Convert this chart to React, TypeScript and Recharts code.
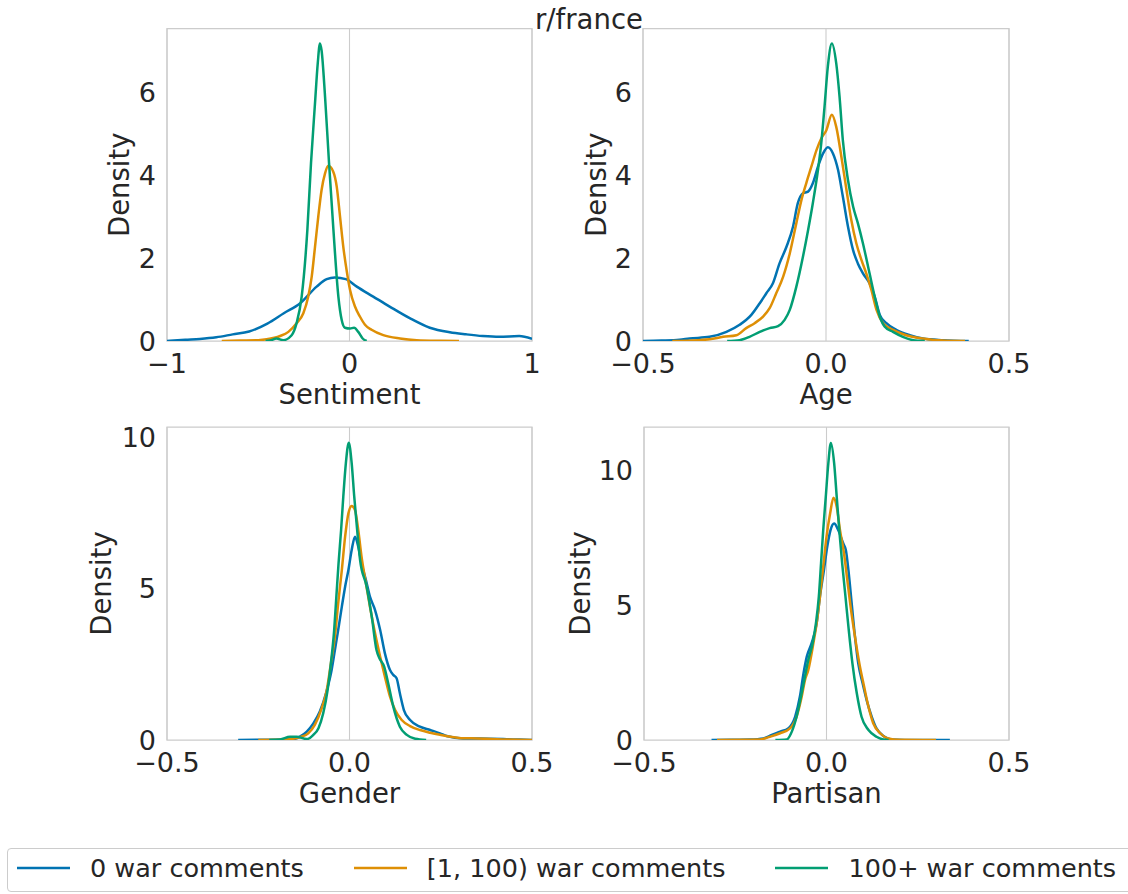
import { LineChart, Line, XAxis, YAxis, CartesianGrid, ReferenceArea, Label } from "recharts";

type Pt = [number, number];

const seriesNames = ["0 war comments", "[1, 100) war comments", "100+ war comments"];
const seriesColors = ["#0173b2", "#de8f05", "#029e73"];

// Sentiment KDEs
const sentimentNone: Pt[] = [
  [-1, 0], [-0.9, 0.03], [-0.82, 0.05], [-0.73, 0.09], [-0.64, 0.16], [-0.55, 0.23], [-0.45, 0.42],
  [-0.36, 0.67], [-0.27, 0.91], [-0.18, 1.31], [-0.125, 1.49], [-0.08, 1.53], [-0.02, 1.49],
  [0.04, 1.31], [0.13, 1.07], [0.22, 0.83], [0.33, 0.55], [0.44, 0.32], [0.55, 0.21], [0.64, 0.16],
  [0.73, 0.12], [0.82, 0.1], [0.93, 0.12], [1, 0.05],
];
const sentimentMid: Pt[] = [
  [-0.7, 0], [-0.6, 0.01], [-0.5, 0.02], [-0.454, 0.04], [-0.38, 0.12], [-0.335, 0.22], [-0.29, 0.43],
  [-0.253, 0.67], [-0.226, 1.07], [-0.207, 1.55], [-0.189, 2.27], [-0.171, 3.0], [-0.153, 3.64],
  [-0.134, 4.04], [-0.116, 4.22], [-0.089, 4.08], [-0.07, 3.72], [-0.052, 3.0], [-0.034, 2.27],
  [-0.016, 1.71], [0.003, 1.23], [0.03, 0.83], [0.057, 0.59], [0.085, 0.39], [0.121, 0.27],
  [0.185, 0.14], [0.277, 0.06], [0.368, 0.02], [0.5, 0.005], [0.6, 0],
];
const sentimentHigh: Pt[] = [
  [-0.46, 0], [-0.436, 0.01], [-0.4, 0.06], [-0.363, 0.02], [-0.317, 0.14], [-0.29, 0.43],
  [-0.262, 1.07], [-0.231, 2.67], [-0.211, 4.28], [-0.189, 5.73], [-0.174, 6.69], [-0.162, 7.17],
  [-0.153, 7.0], [-0.134, 5.89], [-0.112, 4.28], [-0.088, 2.67], [-0.061, 1.07], [-0.043, 0.51],
  [-0.025, 0.32], [0.003, 0.3], [0.025, 0.32], [0.048, 0.22], [0.072, 0.06], [0.094, 0],
];

// Age KDEs
const ageNone: Pt[] = [
  [-0.5, 0], [-0.45, 0.01], [-0.4, 0.03], [-0.373, 0.06], [-0.318, 0.1], [-0.272, 0.22], [-0.236, 0.39],
  [-0.204, 0.63], [-0.181, 0.91], [-0.163, 1.15], [-0.145, 1.39], [-0.127, 1.87], [-0.108, 2.27],
  [-0.09, 2.76], [-0.077, 3.32], [-0.063, 3.56], [-0.049, 3.6], [-0.036, 3.8], [-0.022, 4.2],
  [-0.008, 4.52], [0.005, 4.67], [0.019, 4.52], [0.033, 4.12], [0.046, 3.48], [0.06, 2.76],
  [0.074, 2.19], [0.087, 1.87], [0.101, 1.63], [0.119, 1.39], [0.133, 1.07], [0.147, 0.63],
  [0.165, 0.43], [0.192, 0.27], [0.229, 0.14], [0.265, 0.06], [0.32, 0.02], [0.39, 0],
];
const ageMid: Pt[] = [
  [-0.42, 0], [-0.35, 0.02], [-0.318, 0.04], [-0.281, 0.1], [-0.245, 0.14], [-0.218, 0.31],
  [-0.195, 0.43], [-0.172, 0.59], [-0.154, 0.79], [-0.136, 1.15], [-0.117, 1.55], [-0.099, 2.11],
  [-0.081, 2.84], [-0.067, 3.4], [-0.054, 3.8], [-0.04, 4.2], [-0.026, 4.6], [-0.013, 4.88],
  [0.001, 5.08], [0.016, 5.45], [0.028, 5.16], [0.042, 4.44], [0.056, 3.64], [0.069, 2.92],
  [0.083, 2.35], [0.097, 1.95], [0.11, 1.63], [0.124, 1.23], [0.138, 0.75], [0.156, 0.43],
  [0.183, 0.27], [0.219, 0.14], [0.265, 0.06], [0.32, 0.01], [0.38, 0],
];
const ageHigh: Pt[] = [
  [-0.27, 0], [-0.236, 0.02], [-0.209, 0.1], [-0.181, 0.22], [-0.154, 0.31], [-0.131, 0.36],
  [-0.113, 0.51], [-0.099, 0.75], [-0.081, 1.31], [-0.063, 2.03], [-0.049, 2.67], [-0.036, 3.32],
  [-0.022, 4.12], [-0.013, 4.76], [-0.004, 5.65], [0.005, 6.61], [0.016, 7.17], [0.028, 6.69],
  [0.037, 5.89], [0.046, 4.84], [0.06, 3.88], [0.074, 3.24], [0.087, 2.84], [0.101, 2.35],
  [0.119, 1.63], [0.133, 1.07], [0.147, 0.59], [0.16, 0.35], [0.183, 0.22], [0.21, 0.1],
  [0.238, 0.02], [0.27, 0],
];

// Gender KDEs
const genderNone: Pt[] = [
  [-0.305, 0], [-0.2, 0.01], [-0.154, 0.03], [-0.136, 0.11], [-0.117, 0.28], [-0.099, 0.55],
  [-0.081, 0.95], [-0.063, 1.6], [-0.049, 2.31], [-0.04, 2.97], [-0.031, 3.63], [-0.021, 4.4],
  [-0.012, 5.06], [-0.003, 5.61], [0.006, 6.27], [0.015, 6.71], [0.024, 6.38], [0.033, 5.83],
  [0.045, 5.28], [0.056, 4.73], [0.07, 4.29], [0.084, 3.63], [0.097, 2.86], [0.111, 2.31],
  [0.12, 2.15], [0.129, 2.04], [0.138, 1.54], [0.149, 0.99], [0.166, 0.66], [0.193, 0.44],
  [0.221, 0.33], [0.248, 0.22], [0.266, 0.13], [0.311, 0.05], [0.357, 0.05], [0.448, 0.02], [0.5, 0],
];
const genderMid: Pt[] = [
  [-0.25, 0], [-0.2, 0.01], [-0.172, 0.02], [-0.136, 0.09], [-0.113, 0.22], [-0.095, 0.5],
  [-0.076, 1.05], [-0.063, 1.6], [-0.051, 2.53], [-0.04, 3.41], [-0.031, 4.51], [-0.021, 5.61],
  [-0.012, 6.71], [-0.003, 7.48], [0.006, 7.72], [0.015, 7.59], [0.024, 6.93], [0.033, 6.05],
  [0.045, 5.17], [0.056, 4.4], [0.07, 3.52], [0.084, 2.75], [0.097, 2.09], [0.111, 1.43],
  [0.125, 0.99], [0.143, 0.66], [0.166, 0.46], [0.193, 0.33], [0.221, 0.24], [0.248, 0.17],
  [0.3, 0.07], [0.35, 0.05], [0.42, 0.02], [0.5, 0],
];
const genderHigh: Pt[] = [
  [-0.22, 0], [-0.19, 0.02], [-0.163, 0.11], [-0.145, 0.11], [-0.117, 0.03], [-0.099, 0.17],
  [-0.085, 0.39], [-0.072, 0.88], [-0.06, 1.65], [-0.051, 2.53], [-0.042, 3.63], [-0.036, 4.73],
  [-0.03, 5.83], [-0.023, 6.93], [-0.017, 8.03], [-0.01, 9.13], [-0.002, 9.81], [0.006, 9.13],
  [0.013, 8.03], [0.021, 6.93], [0.029, 5.94], [0.047, 5.06], [0.061, 4.07], [0.074, 2.97],
  [0.082, 2.7], [0.095, 2.42], [0.106, 1.87], [0.12, 1.1], [0.138, 0.44], [0.157, 0.17],
  [0.18, 0.04], [0.21, 0],
];

// Partisan KDEs
const partisanNone: Pt[] = [
  [-0.315, 0], [-0.25, 0.01], [-0.21, 0.02], [-0.173, 0.06], [-0.15, 0.19], [-0.127, 0.31],
  [-0.105, 0.43], [-0.086, 0.86], [-0.073, 1.6], [-0.063, 2.47], [-0.054, 3.09], [-0.041, 3.58],
  [-0.027, 4.32], [-0.018, 5.31], [-0.007, 6.3], [0.002, 7.16], [0.011, 7.78], [0.021, 8.02],
  [0.032, 7.78], [0.046, 7.28], [0.053, 7.04], [0.06, 6.3], [0.069, 5.06], [0.078, 3.83],
  [0.087, 2.84], [0.099, 2.1], [0.11, 1.48], [0.124, 0.86], [0.137, 0.43], [0.156, 0.15],
  [0.178, 0.02], [0.25, 0], [0.338, 0],
];
const partisanMid: Pt[] = [
  [-0.3, 0], [-0.22, 0.01], [-0.182, 0.02], [-0.155, 0.12], [-0.127, 0.25], [-0.1, 0.43],
  [-0.082, 0.86], [-0.068, 1.6], [-0.059, 2.22], [-0.05, 2.59], [-0.036, 3.58], [-0.027, 4.32],
  [-0.018, 5.31], [-0.009, 6.42], [0, 7.53], [0.01, 8.4], [0.019, 8.98], [0.028, 8.64],
  [0.037, 7.78], [0.048, 6.91], [0.057, 5.93], [0.066, 4.94], [0.078, 3.83], [0.09, 2.84],
  [0.103, 1.98], [0.115, 1.23], [0.128, 0.62], [0.147, 0.25], [0.169, 0.06], [0.2, 0.01], [0.3, 0],
];
const partisanHigh: Pt[] = [
  [-0.14, 0], [-0.109, 0.02], [-0.095, 0.31], [-0.082, 0.86], [-0.07, 1.6], [-0.059, 2.35],
  [-0.05, 2.96], [-0.038, 3.58], [-0.029, 4.32], [-0.021, 5.31], [-0.015, 6.54], [-0.009, 7.78],
  [-0.002, 9.01], [0.005, 10.25], [0.012, 11.01], [0.021, 10.25], [0.028, 9.01], [0.035, 7.78],
  [0.043, 6.54], [0.052, 5.31], [0.061, 4.07], [0.071, 2.84], [0.083, 1.73], [0.096, 0.86],
  [0.115, 0.37], [0.137, 0.12], [0.156, 0.02], [0.17, 0],
];

const wideTicks = [-1, 0, 1];
const wideTickLabels = ["\u22121", "0", "1"];
const narrowTicks = [-0.5, 0, 0.5];
const narrowTickLabels = ["\u22120.5", "0.0", "0.5"];
const smallYTicks = [0, 2, 4, 6];
const bigYTicks = [0, 5, 10];

const TEXT = "#262626";
const EDGE = "#cccccc";
const FONT = "'DejaVu Sans', sans-serif";

interface Panel {
  label: string;
  curves: Pt[][];
  xTicks: number[];
  xLabels: string[];
  yTicks: number[];
  yMax: number;
  box: { left: number; top: number; width: number; height: number };
  margin: { top: number; right: number; bottom: number; left: number };
  yWidth: number;
}

const panels: Panel[] = [
  {
    label: "Sentiment", curves: [sentimentNone, sentimentMid, sentimentHigh],
    xTicks: wideTicks, xLabels: wideTickLabels, yTicks: smallYTicks, yMax: 7.53,
    box: { left: 0, top: 0, width: 560, height: 420 },
    margin: { top: 28.5, right: 28, bottom: 9, left: 71 }, yWidth: 96,
  },
  {
    label: "Age", curves: [ageNone, ageMid, ageHigh],
    xTicks: narrowTicks, xLabels: narrowTickLabels, yTicks: smallYTicks, yMax: 7.53,
    box: { left: 540, top: 0, width: 588, height: 420 },
    margin: { top: 28.5, right: 119, bottom: 9, left: 9 }, yWidth: 94,
  },
  {
    label: "Gender", curves: [genderNone, genderMid, genderHigh],
    xTicks: narrowTicks, xLabels: narrowTickLabels, yTicks: bigYTicks, yMax: 10.33,
    box: { left: 0, top: 400, width: 560, height: 420 },
    margin: { top: 27, right: 28, bottom: 10, left: 35 }, yWidth: 132,
  },
  {
    label: "Partisan", curves: [partisanNone, partisanMid, partisanHigh],
    xTicks: narrowTicks, xLabels: narrowTickLabels, yTicks: bigYTicks, yMax: 11.6,
    box: { left: 500, top: 400, width: 628, height: 420 },
    margin: { top: 27, right: 119, bottom: 10, left: 16 }, yWidth: 128,
  },
];

function DensityPanel({ p }: { p: Panel }) {
  const xMin = p.xTicks[0];
  const xMax = p.xTicks[p.xTicks.length - 1];
  return (
    <div style={{ position: "absolute", left: p.box.left, top: p.box.top }}>
      <LineChart width={p.box.width} height={p.box.height} margin={p.margin}>
        <CartesianGrid horizontal={false} stroke={EDGE} strokeWidth={1.1} />
        <XAxis
          type="number"
          dataKey="x"
          domain={[xMin, xMax]}
          ticks={p.xTicks}
          tickFormatter={(v: number) => p.xLabels[p.xTicks.indexOf(v)] ?? String(v)}
          axisLine={false}
          tickLine={false}
          tickSize={0}
          tickMargin={13}
          height={70}
          allowDataOverflow
          tick={{ fontSize: 27, fill: TEXT }}
        >
          <Label value={p.label} position="insideBottom" offset={7} fontSize={27.5} fill={TEXT} />
        </XAxis>
        <YAxis
          type="number"
          domain={[0, p.yMax]}
          ticks={p.yTicks}
          axisLine={false}
          tickLine={false}
          tickSize={0}
          tickMargin={11}
          width={p.yWidth}
          allowDataOverflow
          tick={{ fontSize: 27, fill: TEXT }}
        >
          <Label value="Density" angle={-90} position="center" fontSize={27.5} fill={TEXT} />
        </YAxis>
        <ReferenceArea x1={xMin} x2={xMax} y1={0} y2={p.yMax} fill="none" stroke={EDGE} strokeWidth={1.25} ifOverflow="visible" />
        {p.curves.map((c, i) => (
          <Line
            key={seriesNames[i]}
            name={seriesNames[i]}
            data={c.map(([x, y]) => ({ x, y }))}
            dataKey="y"
            type="monotone"
            stroke={seriesColors[i]}
            strokeWidth={2.5}
            dot={false}
            activeDot={false}
            isAnimationActive={false}
          />
        ))}
      </LineChart>
    </div>
  );
}

export default function App() {
  return (
    <div
      style={{
        position: "absolute", left: 0, top: 0, width: 1128, height: 894,
        background: "#fff", overflow: "hidden", fontFamily: FONT, color: TEXT,
      }}
    >
      {panels.map((p) => (
        <DensityPanel key={p.label} p={p} />
      ))}
      <svg style={{ position: "absolute", left: 0, top: 0 }} width={1128} height={40}>
        <text x={589} y={29.3} textAnchor="middle" fontSize={27.5} fill={TEXT} fontFamily={FONT}>
          r/france
        </text>
      </svg>
      <div
        style={{
          position: "absolute", left: 7, top: 848, width: 1140, height: 44,
          border: `1px solid ${EDGE}`, borderRadius: 4, boxSizing: "border-box",
          display: "flex", alignItems: "center", paddingLeft: 9, paddingBottom: 5,
          background: "#fff",
        }}
      >
        {seriesNames.map((name, i) => (
          <div key={name} style={{ display: "flex", alignItems: "center", marginRight: 50, whiteSpace: "nowrap" }}>
            <svg width={53} height={6} style={{ marginRight: 20 }}>
              <line x1={0} x2={53} y1={3} y2={3} stroke={seriesColors[i]} strokeWidth={2.5} />
            </svg>
            <span style={{ fontSize: 25.5, lineHeight: "30px" }}>{name}</span>
          </div>
        ))}
      </div>
    </div>
  );
}
